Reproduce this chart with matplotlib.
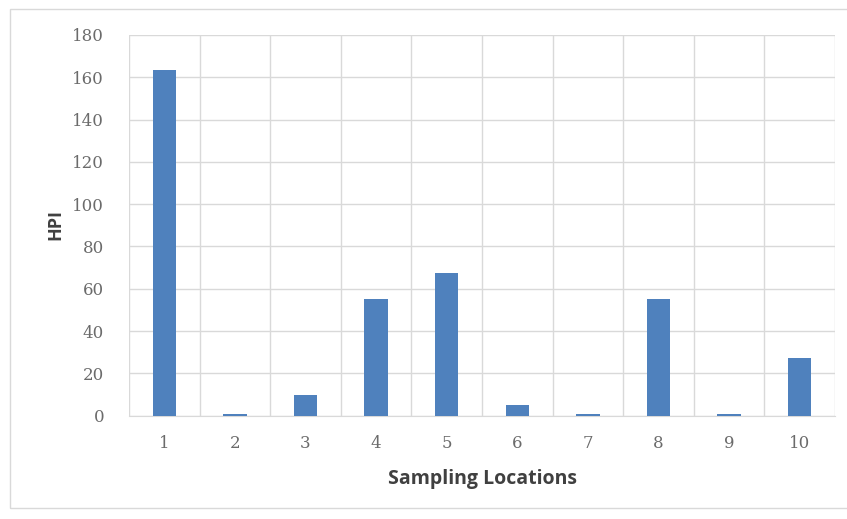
import matplotlib
matplotlib.use("Agg")
import matplotlib.pyplot as plt
import numpy as np
from matplotlib.patches import Rectangle

locations = ["1", "2", "3", "4", "5", "6", "7", "8", "9", "10"]
hpi = [163.5, 0.8, 9.6, 55.2, 67.3, 4.9, 0.7, 55.3, 0.7, 27.4]
yticks = [0, 20, 40, 60, 80, 100, 120, 140, 160, 180]

plt.rcParams['font.family'] = ['Open Sans', 'DejaVu Sans']

W, H = 847, 519
fig = plt.figure(figsize=(W/100, H/100), dpi=100)
ax = fig.add_axes([129/W, 1-415.7/H, (835-129)/W, (415.7-35)/H])

x = np.arange(1, len(locations)+1)
ax.bar(x, hpi, width=0.33, color="#4f81bd", zorder=3)

ax.set_xlim(0.5, len(locations)+0.5)
ax.set_ylim(0, 180)
ax.set_yticks(yticks)
ax.set_xticks(x)
ax.set_xticklabels(locations)
ax.set_xticks(np.arange(0.5, len(locations)+1, 1), minor=True)
ax.grid(axis='y', which='major', color="#d9d9d9", linewidth=1, zorder=0)
ax.grid(axis='x', which='minor', color="#d9d9d9", linewidth=1, zorder=0)
ax.grid(axis='x', which='major', visible=False)
ax.tick_params(which='both', length=0)
tick_font = {'family': ['DejaVu Serif'], 'size': 12}
for lab in ax.get_yticklabels() + ax.get_xticklabels():
    lab.set_fontfamily('DejaVu Serif')
    lab.set_fontsize(12)
    lab.set_color("#6b6b6b")
ax.tick_params(axis='y', pad=18)
ax.tick_params(axis='x', pad=14)
for s in ['top', 'right', 'left']:
    ax.spines[s].set_visible(False)
ax.spines['bottom'].set_color("#d9d9d9")

fig.text(55/W, 1-225/H, "HPI", rotation=90, ha='center', va='center',
         fontsize=13, fontweight='bold', color="#404040")
fig.text(482/W, 1-479/H, "Sampling Locations", ha='center', va='center',
         fontsize=14, fontweight='bold', color="#404040")

fig.patches.append(Rectangle((10/W, 1-508/H), 1.0, (508-9)/H, transform=fig.transFigure,
                             fill=False, edgecolor="#d9d9d9", linewidth=1))

fig.savefig("out.png", dpi=100)
